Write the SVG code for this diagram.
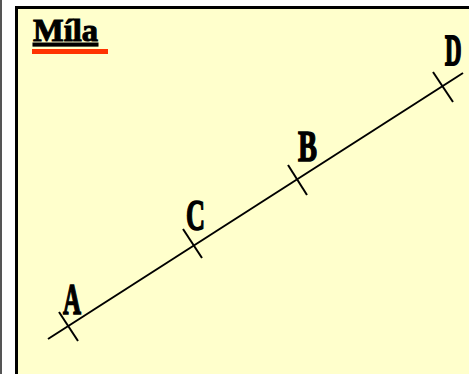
<svg xmlns="http://www.w3.org/2000/svg" width="469" height="374" viewBox="0 0 469 374">
<style>
.lbl{font-family:"Liberation Serif","DejaVu Serif",serif;font-weight:bold;font-size:44px;fill:#000;stroke:#000;stroke-width:1.6}
.tick{stroke:#000;stroke-width:2;fill:none}
</style>
<rect x="0" y="0" width="469" height="374" fill="#fff"/>
<rect x="0" y="0" width="2" height="374" fill="#555"/>
<rect x="16.5" y="7.5" width="460" height="380" fill="#ffffcc" stroke="#000" stroke-width="3"/>
<g id="title">
<text x="33" y="41" font-family="Liberation Serif, serif" font-weight="bold" font-size="31" stroke="#000" stroke-width="1" textLength="65" lengthAdjust="spacingAndGlyphs" text-decoration="underline">Míla</text>
<rect x="32" y="49" width="76" height="5" fill="#ff3300"/>
</g>
<g id="connectors">
<line x1="48" y1="339" x2="463" y2="73" class="tick"/>
</g>
<g id="A">
<line x1="59" y1="312" x2="78" y2="341" class="tick"/>
<text class="lbl" x="63" y="314" textLength="18" lengthAdjust="spacingAndGlyphs">A</text>
</g>
<g id="C">
<line x1="183" y1="229" x2="202" y2="258" class="tick"/>
<text class="lbl" x="186" y="230" textLength="19" lengthAdjust="spacingAndGlyphs">C</text>
</g>
<g id="B">
<line x1="288" y1="165" x2="307" y2="195" class="tick"/>
<text class="lbl" x="298" y="161" textLength="19" lengthAdjust="spacingAndGlyphs">B</text>
</g>
<g id="D">
<line x1="433" y1="72" x2="453" y2="102" class="tick"/>
<text class="lbl" transform="translate(445,65) scale(0.52,1)" x="0" y="0" vector-effect="non-scaling-stroke">D</text>
</g>
</svg>
